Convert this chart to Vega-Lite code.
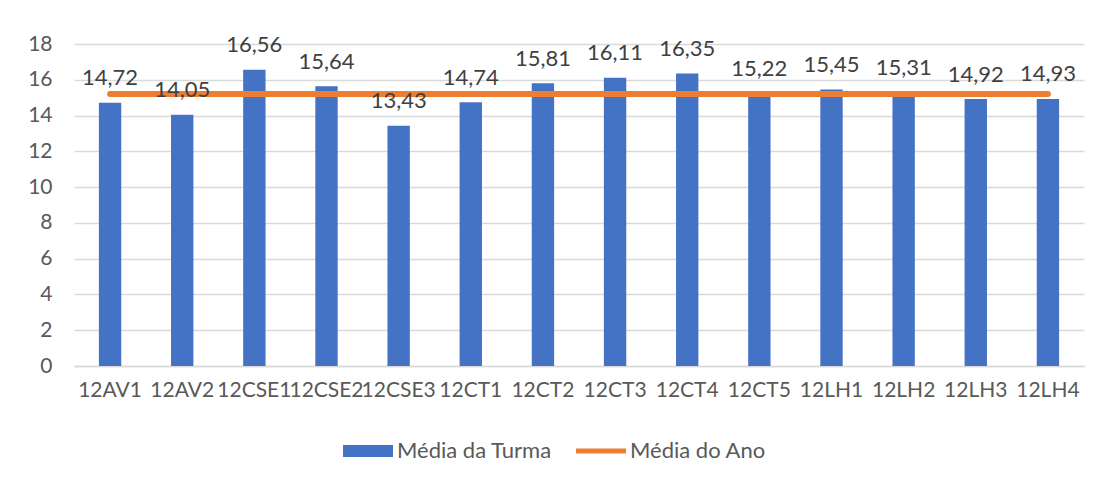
{
  "$schema": "https://vega.github.io/schema/vega-lite/v6.json",
  "autosize": {"type": "none"},
  "width": 1010,
  "height": 322,
  "padding": {"left": 74, "top": 44, "right": 17, "bottom": 116},
  "background": "white",
  "config": {
    "font": "Lato",
    "view": {"stroke": null},
    "locale": {"number": {"decimal": ",", "thousands": ".", "grouping": [3], "currency": ["", " €"]}},
    "axis": {"labelFont": "Lato", "labelFontSize": 21, "labelColor": "#595959", "title": null},
    "axisY": {"values": [0, 2, 4, 6, 8, 10, 12, 14, 16, 18], "labelOverlap": false, "labelBound": false, "domain": false, "ticks": false, "gridColor": "#d9d9d9", "gridWidth": 1.5, "labelPadding": 22}
  },
  "data": {
    "values": [
      {"turma": "12AV1", "media": 14.72, "ano": 15.21},
      {"turma": "12AV2", "media": 14.05, "ano": 15.21},
      {"turma": "12CSE1", "media": 16.56, "ano": 15.21},
      {"turma": "12CSE2", "media": 15.64, "ano": 15.21},
      {"turma": "12CSE3", "media": 13.43, "ano": 15.21},
      {"turma": "12CT1", "media": 14.74, "ano": 15.21},
      {"turma": "12CT2", "media": 15.81, "ano": 15.21},
      {"turma": "12CT3", "media": 16.11, "ano": 15.21},
      {"turma": "12CT4", "media": 16.35, "ano": 15.21},
      {"turma": "12CT5", "media": 15.22, "ano": 15.21},
      {"turma": "12LH1", "media": 15.45, "ano": 15.21},
      {"turma": "12LH2", "media": 15.31, "ano": 15.21},
      {"turma": "12LH3", "media": 14.92, "ano": 15.21},
      {"turma": "12LH4", "media": 14.93, "ano": 15.21}
    ]
  },
  "encoding": {
    "x": {
      "field": "turma", "type": "nominal", "sort": null,
      "scale": {"paddingInner": 0.69, "paddingOuter": 0.345},
      "axis": {"labelAngle": 0, "labelOverlap": false, "labelLimit": 0, "labelBound": false, "ticks": false, "domain": true, "domainColor": "#d9d9d9", "domainWidth": 1.5, "labelPadding": 13, "grid": false}
    }
  },
  "layer": [
    {
      "mark": {"type": "bar", "cornerRadius": 0},
      "encoding": {
        "y": {
          "field": "media", "type": "quantitative",
          "scale": {"domain": [0, 18], "nice": false},
          "axis": {"values": [0, 2, 4, 6, 8, 10, 12, 14, 16, 18]}
        },
        "color": {
          "datum": "Média da Turma", "type": "nominal",
          "scale": {"domain": ["Média da Turma", "Média do Ano"], "range": ["#4472C4", "#ED7D31"]},
          "legend": {
            "orient": "none", "legendX": 269, "legendY": 382, "direction": "horizontal",
            "title": null, "labelFont": "Lato", "labelFontSize": 22, "labelColor": "#595959",
            "symbolSize": 2500, "labelOffset": 4, "columnPadding": 24,
            "encode": {
              "symbols": {
                "update": {
                  "shape": {"signal": "datum.value === 'Média do Ano' ? 'M-1,-0.1H1V0.1H-1Z' : 'M-1,-0.24H1V0.24H-1Z'"},
                  "fill": {"scale": "color", "field": "value"},
                  "strokeWidth": {"value": 0}
                }
              }
            }
          }
        }
      }
    },
    {
      "mark": {"type": "line", "strokeWidth": 6, "strokeCap": "round"},
      "encoding": {
        "y": {"field": "ano", "type": "quantitative", "axis": {"values": [0, 2, 4, 6, 8, 10, 12, 14, 16, 18]}},
        "color": {"datum": "Média do Ano", "type": "nominal"}
      }
    },
    {
      "mark": {"type": "text", "baseline": "alphabetic", "dy": -17.5, "fontSize": 22, "color": "#404040", "font": "Lato"},
      "encoding": {
        "y": {"field": "media", "type": "quantitative", "axis": {"values": [0, 2, 4, 6, 8, 10, 12, 14, 16, 18]}},
        "text": {"field": "media", "type": "quantitative", "format": ".2f"}
      }
    }
  ]
}
